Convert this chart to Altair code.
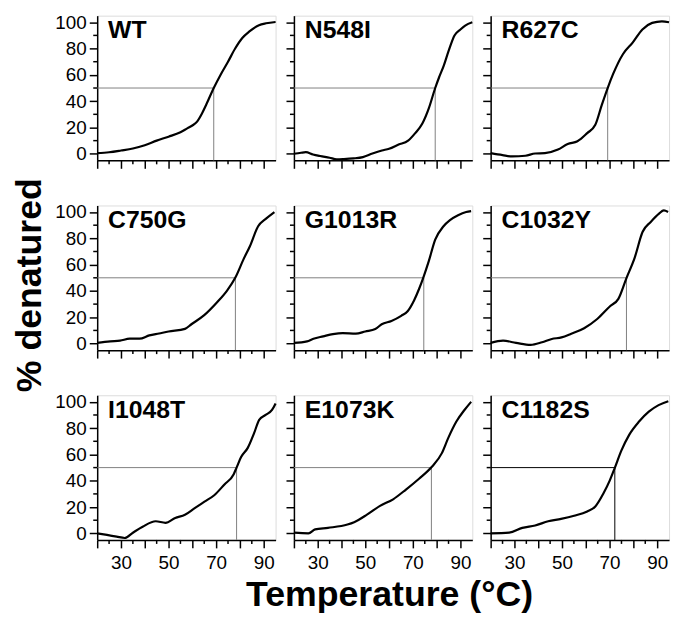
import altair as alt
import pandas as pd

FONT = "Liberation Sans"

panels = ["WT", "N548I", "R627C", "C750G", "G1013R", "C1032Y", "I1048T", "E1073K", "C1182S"]
tm_values = [69.0, 79.4, 69.2, 78.1, 74.6, 77.1, 78.6, 77.8, 72.2]
ref_colors = ["#808080"] * 8 + ["#000000"]

wt_t = [20, 25, 30, 35, 40, 45, 50, 55, 58, 60, 62, 64, 66, 69, 72, 75, 78, 81, 84, 88, 91, 95]
wt_v = [0.5, 1.2, 2.5, 4, 6.5, 10, 13, 16.4, 19.5, 21.5, 24.5, 30.5, 38, 50, 60.5, 70, 80, 88, 93, 97.8, 99.2, 100.2]

n548i_t = [20, 23, 25, 28, 31, 35, 38, 41, 45, 49, 53, 57, 60, 64, 68, 71, 74, 76.7, 79.4, 81, 83, 85, 87.5, 90, 92, 95]
n548i_v = [0, 0.8, 1.2, -0.5, -1.7, -3, -4.2, -4, -3.5, -2.5, 0.2, 2.5, 3.8, 7, 10, 15.7, 23, 34.5, 50, 58, 67, 78, 90, 94.5, 97.5, 100]

r627c_t = [20, 25, 29, 34.6, 38.7, 42.8, 48.3, 52.4, 56.5, 60.6, 64, 66.7, 69.2, 71.5, 75.6, 79.7, 83.8, 87.9, 92, 95]
r627c_v = [0.5, -1, -2, -1.5, 0.2, 0.5, 3.2, 7.5, 9.5, 15.7, 22, 37, 50, 60.7, 75.7, 84.5, 94.5, 99.5, 100.7, 100]

c750g_t = [20, 25.5, 29.6, 33.7, 37.8, 41.9, 46, 50, 56.9, 59.6, 65, 70.5, 74.6, 78.1, 81.5, 84.2, 87.6, 91, 94.5]
c750g_v = [0.5, 1.7, 2.2, 3.7, 3.7, 6.2, 7.7, 9.2, 11.2, 14.7, 21.6, 31.6, 40.3, 50.2, 64, 74, 89, 95, 100]

g1013r_t = [20, 25.5, 28.2, 32.3, 36.4, 40.5, 46, 50, 54.2, 56.9, 61, 65.1, 67.8, 70.5, 72.6, 74.4, 76.7, 79.4, 82.8, 85.6, 89, 92.4, 94.5]
g1013r_v = [0.5, 1.7, 3.7, 5.5, 7.2, 8, 7.5, 9.2, 11, 14.7, 17.2, 21.1, 24.6, 32.8, 41.5, 50.2, 62.7, 79, 89, 93.8, 97.5, 100, 100.7]

c1032y_t = [20, 25.2, 30.7, 36.8, 41.6, 45.7, 49.8, 53.9, 59.3, 64.8, 70.3, 73.7, 77.1, 80.5, 83.9, 87.3, 90.8, 92.8, 94.6]
c1032y_v = [0.5, 2.2, 0.5, -1, 1, 3.5, 4.7, 7.5, 11.7, 18.7, 28.6, 34, 49.8, 65, 85, 92.5, 98.8, 101.2, 100]

i1048t_t = [20, 24.1, 28.2, 31.6, 35, 39.1, 44.6, 48.7, 52.8, 56.9, 61, 65.1, 69.2, 73.5, 77.4, 78.6, 80.5, 83.3, 86, 88.1, 90.8, 93.5, 95]
i1048t_v = [0, -1.2, -2.5, -3.5, 0.5, 5, 9.2, 8, 11.7, 14.2, 19.2, 24.1, 29, 37.2, 45, 50, 58, 65, 76.4, 86.3, 90, 93.8, 98.8]

e1073k_t = [20, 26.1, 28.9, 34.3, 42.5, 45.3, 50.7, 56.2, 61.7, 67.1, 72.6, 77.8, 82.2, 84.9, 88.3, 91.7, 94.5]
e1073k_v = [0.5, 0, 3, 4.2, 6.7, 8.5, 14.2, 20.9, 25.9, 33.3, 41.5, 50.2, 61, 72.6, 85, 93.8, 100]

c1182s_t = [20, 27.8, 33.3, 38.7, 44.2, 49.6, 55.1, 60.6, 64, 67.4, 70.1, 72.2, 74.9, 78.3, 82.4, 86.5, 90.6, 94.7]
c1182s_v = [0, 0.5, 4.2, 6, 9.2, 11, 13.4, 16.7, 20.4, 30.3, 40.3, 49.8, 62.7, 75.1, 85, 92.5, 97.5, 100.5]

series_t = [wt_t, n548i_t, r627c_t, c750g_t, g1013r_t, c1032y_t, i1048t_t, e1073k_t, c1182s_t]
series_v = [wt_v, n548i_v, r627c_v, c750g_v, g1013r_v, c1032y_v, i1048t_v, e1073k_v, c1182s_v]

x_domain = [20, 95]
y_domain = [-5, 105]
x_major = [20, 30, 40, 50, 60, 70, 80, 90]
x_minor = [25, 35, 45, 55, 65, 75, 85]
y_major = [0, 20, 40, 60, 80, 100]
y_minor = [10, 30, 50, 70, 90]
half_level = 50

W, H = 180, 146

xscale = alt.Scale(domain=x_domain, nice=False, zero=False)
yscale = alt.Scale(domain=y_domain, nice=False, zero=False)


def make_xaxis(i):
    kw = dict(values=x_major, tickSize=8, tickWidth=1.5, tickColor="black",
              domainColor="black", domainWidth=1.5, grid=False,
              labels=i >= 6, labelExpr="datum.value % 20 == 10 ? datum.label : ''",
              labelFontSize=19, labelColor="black", labelFont=FONT, labelPadding=6,
              labelOverlap=False)
    if i == 7:
        kw.update(title="Temperature (°C)", titleFontSize=36, titleFontWeight="bold",
                  titleFont=FONT, titleColor="black", titlePadding=5, titleX=96)
    else:
        kw.update(title=None)
    return alt.Axis(**kw)


def make_yaxis(i):
    kw = dict(values=y_major, tickSize=8, tickWidth=1.5, tickColor="black",
              domainColor="black", domainWidth=1.5, grid=False,
              labels=i % 3 == 0, labelFontSize=19, labelColor="black", labelFont=FONT,
              labelPadding=3, labelOverlap=False)
    if i == 3:
        kw.update(title="% denatured", titleFontSize=36, titleFontWeight="bold",
                  titleFont=FONT, titleColor="black", titlePadding=6, titleY=80)
    else:
        kw.update(title=None)
    return alt.Axis(**kw)


charts = []
for i, name in enumerate(panels):
    xa = make_xaxis(i)
    ya = make_yaxis(i)
    X = lambda f="T": alt.X(f"{f}:Q", scale=xscale, axis=xa)
    Y = lambda f="v": alt.Y(f"{f}:Q", scale=yscale, axis=ya)

    df = pd.DataFrame({"T": series_t[i], "v": series_v[i]})
    line = alt.Chart(df).mark_line(color="black", strokeWidth=2.2, interpolate="monotone").encode(
        x=X(), y=Y())

    hdf = pd.DataFrame({"T": [x_domain[0]], "T2": [tm_values[i]], "v": [half_level]})
    hrule = alt.Chart(hdf).mark_rule(color=ref_colors[i], strokeWidth=1).encode(
        x=X(), x2="T2:Q", y=Y())

    vdf = pd.DataFrame({"T": [tm_values[i]], "v": [y_domain[0]], "v2": [half_level]})
    vrule = alt.Chart(vdf).mark_rule(color=ref_colors[i], strokeWidth=1).encode(
        x=X(), y=Y(), y2="v2:Q")

    xm = alt.Chart(pd.DataFrame({"T": x_minor})).mark_rule(color="black", strokeWidth=1.5).encode(
        x=X(), y=alt.value(H), y2=alt.value(H + 4))
    ym = alt.Chart(pd.DataFrame({"v": y_minor})).mark_rule(color="black", strokeWidth=1.5).encode(
        y=Y(), x=alt.value(0), x2=alt.value(-4))

    label = alt.Chart(pd.DataFrame({"name": [name]})).mark_text(
        align="left", baseline="alphabetic", font=FONT, fontSize=25, fontWeight="bold",
        color="black").encode(x=alt.value(11), y=alt.value(23), text="name:N")

    charts.append(alt.layer(vrule, hrule, line, xm, ym, label).properties(width=W, height=H))

chart = alt.concat(*charts, columns=3, spacing=alt.RowColnumber(row=45.5, column=18.5),
                   bounds="flush").properties(
    padding={"left": 3, "top": 2, "right": 0, "bottom": 0}
).configure_view(stroke=None).configure(background="white")

chart.save("out.html", embed_options={"renderer": "svg", "actions": False})
